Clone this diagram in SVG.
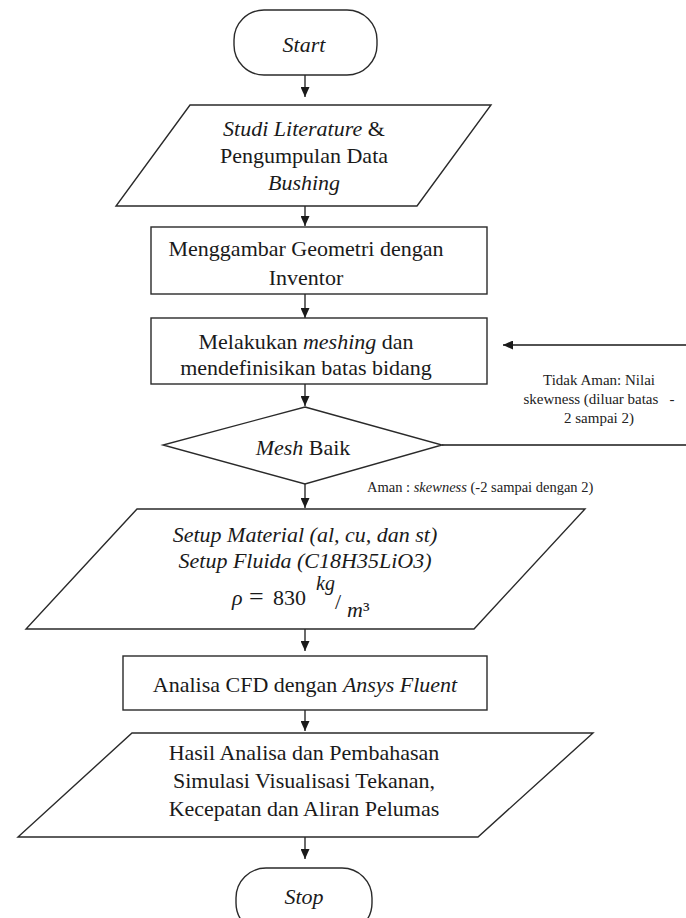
<svg xmlns="http://www.w3.org/2000/svg" width="686" height="918" viewBox="0 0 686 918">
<defs>
<marker id="ah" markerWidth="10" markerHeight="9" refX="10" refY="4.5" orient="auto" markerUnits="userSpaceOnUse"><path d="M0,0 L10,4.5 L0,9 z" fill="#1a1a1a"/></marker>
</defs>
<style>
.shape{fill:#fff;stroke:#2a2a2a;stroke-width:1.4}
.t{font-family:"Liberation Serif","Times New Roman",serif;font-size:22px;fill:#1a1a1a;text-anchor:middle}
.i{font-style:italic}
.conn{fill:none;stroke:#1a1a1a;stroke-width:1.3}
.lbl{font-family:"Liberation Serif","Times New Roman",serif;font-size:15px;fill:#222;text-anchor:middle}
.lbl2{font-family:"Liberation Serif","Times New Roman",serif;font-size:14.5px;fill:#222}
</style>
<rect width="686" height="918" fill="#fff"/>

<g id="connectors">
<path class="conn" d="M305,75 V97" marker-end="url(#ah)"/>
<path class="conn" d="M305,206 V226" marker-end="url(#ah)"/>
<path class="conn" d="M305,294 V318" marker-end="url(#ah)"/>
<path class="conn" d="M305,384 V406" marker-end="url(#ah)"/>
<path class="conn" d="M305,484 V508" marker-end="url(#ah)"/>
<path class="conn" d="M305,629 V651" marker-end="url(#ah)"/>
<path class="conn" d="M305,710 V731" marker-end="url(#ah)"/>
<path class="conn" d="M305,837 V859" marker-end="url(#ah)"/>
<path class="conn" d="M442,445 H700 V345 H503" marker-end="url(#ah)"/>
<text class="lbl" x="599" y="385">Tidak Aman: Nilai</text>
<text class="lbl" x="599" y="404" xml:space="preserve">skewness (diluar batas   -</text>
<text class="lbl" x="599" y="423">2 sampai 2)</text>
<text class="lbl2" x="367" y="492">Aman : <tspan class="i">skewness</tspan> (-2 sampai dengan 2)</text>
</g>

<g id="start">
<rect class="shape" x="234" y="10" width="143" height="65" rx="30" ry="30"/>
<text class="t i" x="304" y="52">Start</text>
</g>

<g id="studi">
<polygon class="shape" points="190,105 491,105 417,206 116,206"/>
<text class="t" x="304" y="136"><tspan class="i">Studi Literature</tspan> &amp;</text>
<text class="t" x="304" y="163">Pengumpulan Data</text>
<text class="t i" x="304" y="190">Bushing</text>
</g>

<g id="menggambar">
<rect class="shape" x="151" y="227" width="336" height="67"/>
<text class="t" x="306" y="256">Menggambar Geometri dengan</text>
<text class="t" x="306" y="285">Inventor</text>
</g>

<g id="meshing">
<rect class="shape" x="151" y="318" width="336" height="66"/>
<text class="t" x="306" y="349">Melakukan <tspan class="i">meshing</tspan> dan</text>
<text class="t" x="306" y="375">mendefinisikan batas bidang</text>
</g>

<g id="mesh-baik">
<polygon class="shape" points="305,407 442,445 305,484 163,445"/>
<text class="t" x="303" y="455"><tspan class="i">Mesh</tspan> Baik</text>
</g>

<g id="setup">
<polygon class="shape" points="137,509 585,509 474,629 26,629"/>
<text class="t i" x="305" y="542">Setup Material (al, cu, dan st)</text>
<text class="t i" x="305" y="568">Setup Fluida (C18H35LiO3)</text>
<text class="t" style="text-anchor:start"><tspan class="i" x="232" y="605">ρ</tspan><tspan x="249" y="605" style="font-size:26px">=</tspan><tspan x="273" y="605">830</tspan><tspan class="i" x="316" y="590" style="font-size:20px">kg</tspan><tspan x="335" y="609">/</tspan><tspan class="i" x="347" y="617">m</tspan><tspan y="617">³</tspan></text>
</g>

<g id="cfd">
<rect class="shape" x="123" y="656" width="364" height="54"/>
<text class="t" x="305" y="692">Analisa CFD dengan <tspan class="i">Ansys Fluent</tspan></text>
</g>

<g id="hasil">
<polygon class="shape" points="132,733 593,733 478,837 18,837"/>
<text class="t" x="304" y="760">Hasil Analisa dan Pembahasan</text>
<text class="t" x="304" y="788">Simulasi Visualisasi Tekanan,</text>
<text class="t" x="304" y="816">Kecepatan dan Aliran Pelumas</text>
</g>

<g id="stop">
<rect class="shape" x="236" y="868" width="136" height="65" rx="30" ry="30"/>
<text class="t i" x="304" y="904">Stop</text>
</g>
</svg>
